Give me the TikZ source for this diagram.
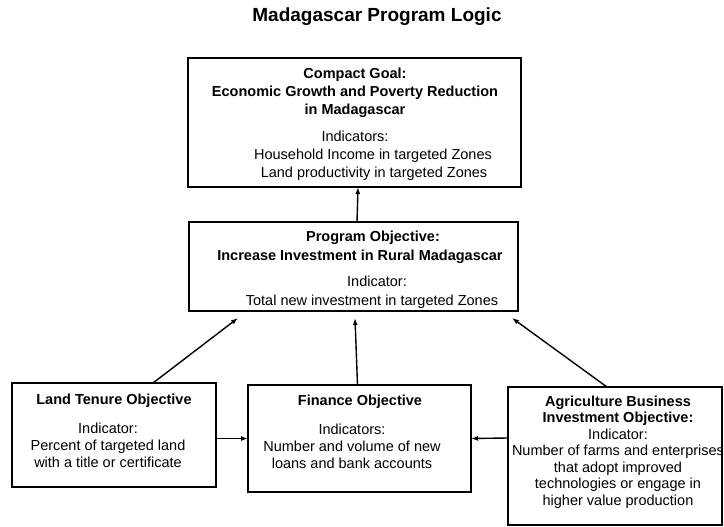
\documentclass[tikz,border=0pt]{standalone}
\usepackage{fontspec}
\setmainfont{Liberation Sans}
\usetikzlibrary{arrows.meta}
\begin{document}
\begin{tikzpicture}[x=1pt,y=-1pt,
  box/.style={draw=black, line width=1.4pt, inner sep=0pt, outer sep=0pt, rectangle},
  txt/.style={align=center, inner sep=0pt},
  arr/.style={line width=1.4pt, -{Latex[length=7pt,width=5pt]}},
]
\useasboundingbox (0,0) rectangle (724,527);
\node[font=\bfseries\fontsize{19}{22}\selectfont] (title) at (377,17) {Madagascar Program Logic};

% boxes
\node[box, minimum width=333pt, minimum height=129pt] (gbox) at (354.5,122.5) {};
\node[box, minimum width=329pt, minimum height=89pt] (pbox) at (353.5,266.5) {};
\node[box, minimum width=204pt, minimum height=104pt] (lbox) at (114,435) {};
\node[box, minimum width=223pt, minimum height=107pt] (fbox) at (359.5,438.5) {};
\node[box, minimum width=214pt, minimum height=138pt] (abox) at (615,456) {};

% texts
\node[txt, font=\fontsize{14.5}{18}\selectfont] (gtext) at (355,124) {%
\textbf{Compact Goal:}\\ \textbf{Economic Growth and Poverty Reduction}\\ \textbf{in Madagascar}\\[9pt]
Indicators:\\ \hspace*{36pt}Household Income in targeted Zones\\ \hspace*{38pt}Land productivity in targeted Zones};

\node[txt, font=\fontsize{14.5}{19}\selectfont] (ptext) at (360,270) {%
\hspace*{26pt}\textbf{Program Objective:}\\ \textbf{Increase Investment in Rural Madagascar}\\[7pt]
\hspace*{34pt}Indicator:\\ \hspace*{24pt}Total new investment in targeted Zones};

\node[txt, font=\fontsize{14.5}{17}\selectfont] (ltext) at (108,431) {%
\hspace*{12pt}\textbf{Land Tenure Objective}\\[12pt]
Indicator:\\ Percent of targeted land\\ with a title or certificate};

\node[txt, font=\fontsize{14.5}{17}\selectfont] (ftext) at (352,432) {%
\hspace*{16pt}\textbf{Finance Objective}\\[12pt]
Indicators:\\ Number and volume of new\\ loans and bank accounts};

\node[txt, font=\fontsize{14.5}{16.5}\selectfont] (atext) at (618,452) {%
\textbf{Agriculture Business}\\ \textbf{Investment Objective:}\\ Indicator:\\
Number of farms and enterprises\\ that adopt improved\\ technologies or engage in\\ higher value production};

% connectors
\draw[arr] ([xshift=3.5pt]pbox.north) -- ([xshift=3.5pt]gbox.south);
\draw[arr] ([xshift=39pt]lbox.north) -- ([xshift=49pt,yshift=-7pt]pbox.south west);
\draw[arr] ([xshift=-2pt]fbox.north) -- ([xshift=1.5pt,yshift=-7pt]pbox.south);
\draw[arr] ([xshift=-8pt]abox.north) -- ([xshift=-6pt,yshift=-7pt]pbox.south east);
\draw[arr] ([yshift=-3.5pt]lbox.east) -- (fbox.west);
\draw[arr] ([yshift=18pt]abox.west) -- (fbox.east);
\end{tikzpicture}
\end{document}
